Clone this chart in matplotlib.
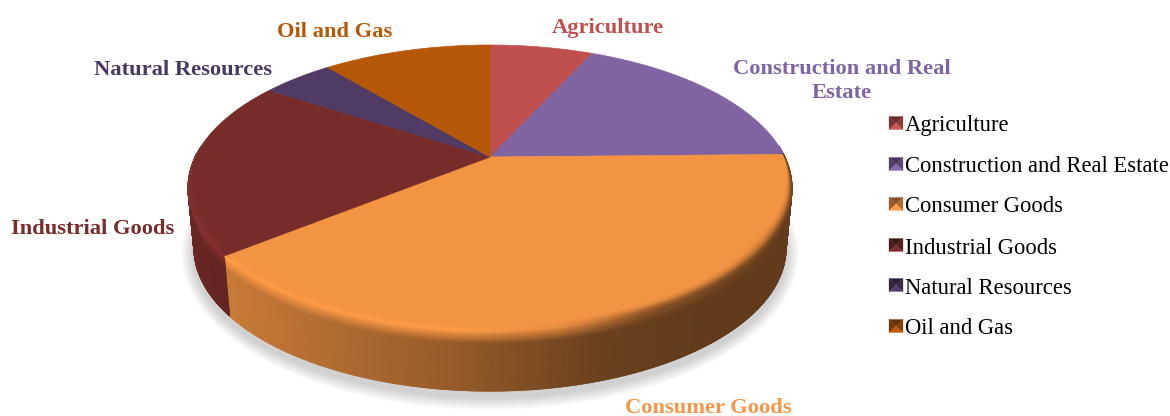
import matplotlib
matplotlib.use('Agg')
import matplotlib.pyplot as plt
import numpy as np
from matplotlib.collections import LineCollection
from matplotlib.colors import to_rgb
from matplotlib.patches import Ellipse, Polygon

categories = ['Agriculture', 'Construction and Real Estate', 'Consumer Goods',
              'Industrial Goods', 'Natural Resources', 'Oil and Gas']
shares = [6.8, 17.9, 39.5, 20.0, 4.7, 11.1]
face_colors = ['#bf504d', '#8064a2', '#f39443', '#772c2a', '#4f3b63', '#b65708']
label_colors = ['#c0504d', '#8064a2', '#f79646', '#772c2a', '#4a3763', '#b65708']

# label text and its centre in pixels
slice_labels = ['Agriculture', 'Construction and Real\nEstate', 'Consumer Goods',
                'Industrial Goods', 'Natural Resources', 'Oil and Gas']
label_pos = [(608, 28), (842, 81), (708, 408), (93, 229), (183, 70), (335, 32)]

# ellipse of the top face and of the foot of the cylinder
TOP = (490, 188, 302, 143)
FOOT = (490, 248, 296, 143)
# how far the pie centre sits behind the middle of the ellipse (perspective)
TILT = 0.217

plt.rcParams['font.family'] = ['Liberation Serif', 'DejaVu Serif']

fig = plt.figure(figsize=(11.7, 4.16), dpi=100)
ax = fig.add_axes([0, 0, 1, 1])
ax.set_xlim(0, 1170)
ax.set_ylim(416, 0)
ax.axis('off')


def project(angle):
    # clockwise angle from 12 o'clock to normalised ellipse coordinates
    u, v = np.sin(angle), np.cos(angle)
    d = 1 + TILT * v
    return u * np.sqrt(1 - TILT ** 2) / d, (v + TILT) / d


def to_px(x, y, ell):
    return ell[0] + ell[2] * x, ell[1] - ell[3] * y


def side_shade(px):
    return np.interp(px, [187, 232, 450, 600, 700, 795], [0.88, 0.82, 0.62, 0.44, 0.40, 0.40])


def rim_shade(px):
    return np.interp(px, [187, 225, 240, 450, 560, 650, 795], [1.15, 1.12, 1.04, 1.06, 0.95, 0.60, 0.42])


def slice_rim(i):
    n = max(int(np.degrees(edges[i + 1] - edges[i]) * 2), 4)
    return project(np.linspace(edges[i], edges[i + 1], n + 1))


# soft shadow under the cylinder
for k in range(16, 0, -1):
    ax.add_patch(Ellipse((FOOT[0], FOOT[1] + 6), 2 * (FOOT[2] + k * 0.8), 2 * (FOOT[3] + k * 0.8),
                         fc='#808080', ec='none', alpha=0.022, zorder=1))

edges = np.radians(np.cumsum([0] + shares) * 3.6)

# rows of the wall mesh: dense just under the rim where the shading turns
wall_levels = np.concatenate([np.linspace(0, 0.25, 12), [1.0]])
bevel_levels = np.linspace(1, 0, 8)

for i, color in enumerate(face_colors):
    base = np.array(to_rgb(color))
    x, y = slice_rim(i)
    keep = y < 0.3
    if keep.sum() < 2:
        continue
    x, y = x[keep], y[keep]
    tx, ty = to_px(x, y, TOP)
    fx, fy = to_px(x, y, FOOT)

    # wall of the cylinder, shaded left to right
    X = np.array([tx + (fx - tx) * t for t in wall_levels])
    Y = np.array([ty + (fy - ty) * t for t in wall_levels])
    C = np.zeros(X.shape + (3,))
    for r, t in enumerate(wall_levels):
        w = min(t / 0.22, 1)
        C[r] = np.clip(base[None, :] * (rim_shade(tx) * (1 - w) + side_shade(tx) * w)[:, None], 0, 1)
    ax.pcolormesh(X, Y, C, shading='gouraud', zorder=2 + i * 0.01)

    # thin line along the foot so the lower edge stays smooth
    pts = np.column_stack([fx, fy])
    segs = np.stack([pts[:-1], pts[1:]], axis=1)
    ax.add_collection(LineCollection(segs, colors=np.clip(C[-1, :-1], 0, 1), linewidths=0.8, zorder=2 + i * 0.01))

for i, color in enumerate(face_colors):
    x, y = slice_rim(i)
    # flat top of the slice, from the pie centre round the rim
    apex = to_px(0, TILT, TOP)
    px, py = to_px(x, y, TOP)
    ax.add_patch(Polygon([apex] + list(zip(px, py)), closed=True, fc=color, ec=color, lw=0.5, zorder=3))

for i, color in enumerate(face_colors):
    base = np.array(to_rgb(color))
    x, y = slice_rim(i)
    keep = y < 0.25
    if keep.sum() < 2:
        continue
    x, y = x[keep], y[keep]

    # rounded shoulder between top and wall, only on the near half;
    # it narrows to nothing at the ends of a slice
    width = 0.05 * np.clip(0.25 - y, 0, 0.6) / 0.6
    steps = np.arange(len(x))
    width = width * np.minimum(1, np.minimum(steps, steps[::-1]) / 10)
    X = np.array([to_px(x * (1 - s * width), y * (1 - s * width), TOP)[0] for s in bevel_levels])
    Y = np.array([to_px(x * (1 - s * width), y * (1 - s * width), TOP)[1] for s in bevel_levels])
    tx = to_px(x, y, TOP)[0]
    C = np.zeros(X.shape + (3,))
    for r, s in enumerate(bevel_levels):
        w = (1 - s) ** 2
        C[r] = np.clip(base[None, :] * ((1 - w) + w * rim_shade(tx))[:, None], 0, 1)
    ax.pcolormesh(X, Y, C, shading='gouraud', zorder=4)

# data labels
for text, pos, color in zip(slice_labels, label_pos, label_colors):
    ax.text(pos[0], pos[1], text, color=color, fontsize=16.2, fontweight='bold',
            ha='center', va='center', linespacing=1.25, zorder=6)

# legend with small pillow shaped keys
legend_y = [123, 164, 204, 245, 285, 326]
for name, ly, color in zip(categories, legend_y, face_colors):
    base = np.array(to_rgb(color))
    l, r, t, b = 889, 903, ly - 6.5, ly + 6.5
    mid = ((l + r) / 2, ly)
    facets = [([(l, t), (r, t), mid], 0.55), ([(l, t), (l, b), mid], 0.62),
              ([(r, t), (r, b), mid], 0.72), ([(l, b), (r, b), mid], 1.05)]
    for tri, shade in facets:
        fc = np.clip(base * shade, 0, 1)
        ax.add_patch(Polygon(tri, closed=True, fc=fc, ec=fc, lw=0.2, zorder=5))
    ax.text(905, ly + 3, name, color='black', fontsize=16.3, ha='left', va='center', zorder=6)

fig.savefig('out.png', dpi=100)
